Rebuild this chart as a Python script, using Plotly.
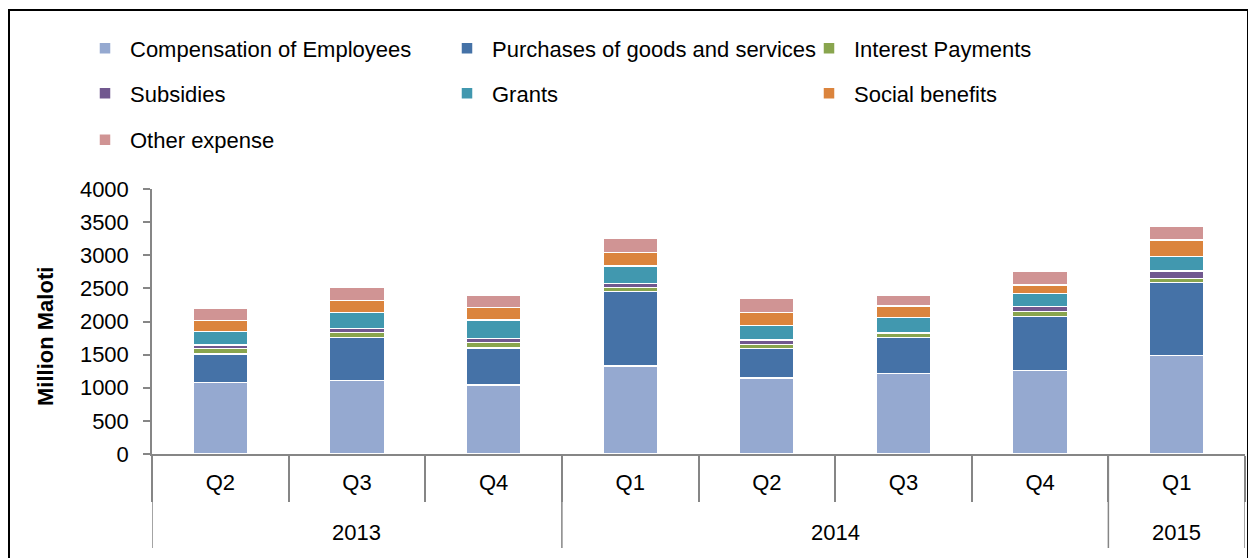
import plotly.graph_objects as go

years = ["2013", "2013", "2013", "2014", "2014", "2014", "2014", "2015"]
quarters = ["Q2", "Q3", "Q4", "Q1", "Q2", "Q3", "Q4", "Q1"]

compensation = [1082, 1107, 1041, 1328, 1147, 1218, 1258, 1484]
purchases = [427, 654, 559, 1122, 448, 538, 815, 1102]
interest = [80, 70, 80, 60, 61, 66, 81, 66]
subsidies = [60, 66, 61, 66, 65, 15, 70, 110]
grants = [200, 236, 282, 262, 216, 220, 201, 217]
social = [165, 181, 191, 206, 196, 176, 126, 251]
other = [180, 202, 176, 212, 222, 161, 201, 201]

series = [
    ("Compensation of Employees", compensation, "#95A9D0", "legend"),
    ("Purchases of goods and services", purchases, "#4572A7", "legend"),
    ("Interest Payments", interest, "#89A54E", "legend"),
    ("Subsidies", subsidies, "#71588F", "legend2"),
    ("Grants", grants, "#4198AF", "legend2"),
    ("Social benefits", social, "#DB843D", "legend2"),
    ("Other expense", other, "#D09494", "legend3"),
]

FONT = "Liberation Sans, Arial, sans-serif"
AXIS_GRAY = "#868686"

cats = [f"{y} {q}" for y, q in zip(years, quarters)]
n = len(cats)

# screen-pixel helpers (page body has an 8px margin; the plot area spans
# screen x 152..1245 and y 189..454)
def ypaper(sy):
    return (454 - sy) / 265.0

def xpaper(sx):
    return (sx - 152) / 1093.0

fig = go.Figure()
for name, vals, color, lg in series:
    fig.add_trace(go.Bar(
        x=cats, y=vals, name=name,
        marker=dict(color=color, line=dict(color="white", width=1.5)),
        legend=lg,
    ))

leg_common = dict(orientation="h", xanchor="left", yanchor="middle",
                  entrywidth=307, entrywidthmode="pixels", itemwidth=40,
                  font=dict(family=FONT, size=22, color="#000000"),
                  bgcolor="rgba(0,0,0,0)", traceorder="normal")

# year groups -> dividers and labels computed from the data
groups = []
for i, y in enumerate(years):
    if not groups or groups[-1][0] != y:
        groups.append([y, i, i])
    else:
        groups[-1][2] = i

shapes = []
annotations = []
bounds = sorted({g[1] - 0.5 for g in groups} | {g[2] + 0.5 for g in groups})
for b in bounds:
    shapes.append(dict(type="line", xref="x", yref="paper",
                       x0=b, x1=b, y0=0, y1=ypaper(548),
                       line=dict(color=AXIS_GRAY, width=1.5)))
for y, i0, i1 in groups:
    annotations.append(dict(text=y, xref="x", yref="paper",
                            x=(i0 + i1) / 2, y=ypaper(532),
                            showarrow=False, yanchor="middle",
                            font=dict(family=FONT, size=22, color="#000000")))

annotations.append(dict(text="<b>Million Maloti</b>", textangle=-90,
                        xref="paper", yref="paper",
                        x=xpaper(45), y=ypaper(337),
                        showarrow=False, xanchor="center", yanchor="middle",
                        font=dict(family=FONT, size=22, color="#000000")))

shapes.append(dict(type="rect", xref="paper", yref="paper",
                   x0=xpaper(9), x1=xpaper(1248), y0=ypaper(600), y1=ypaper(10),
                   line=dict(color="black", width=2), fillcolor="rgba(0,0,0,0)",
                   layer="below"))

fig.update_layout(
    width=1256, height=558,
    margin=dict(l=144, r=19, t=181, b=112),
    paper_bgcolor="white", plot_bgcolor="white",
    barmode="stack", bargap=0.6,
    font=dict(family=FONT, size=19, color="#000000"),
    showlegend=True,
    legend=dict(x=xpaper(80), y=ypaper(48.5), **leg_common),
    legend2=dict(x=xpaper(80), y=ypaper(93.5), **leg_common),
    legend3=dict(x=xpaper(80), y=ypaper(140), **leg_common),
    yaxis=dict(range=[0, 4000], dtick=500, showgrid=False, zeroline=False,
               showline=True, linecolor=AXIS_GRAY, linewidth=1.5,
               ticks="outside", ticklen=7, tickcolor=AXIS_GRAY, tickwidth=1.5,
               ticklabelstandoff=10,
               tickfont=dict(family=FONT, size=22)),
    xaxis=dict(type="category", categoryorder="array", categoryarray=cats,
               range=[-0.5, n - 0.5],
               tickvals=cats, ticktext=quarters, tickson="boundaries",
               showgrid=False, showline=True, linecolor=AXIS_GRAY, linewidth=1.5,
               ticks="outside", ticklen=46, tickcolor=AXIS_GRAY, tickwidth=1.5,
               ticklabelstandoff=8,
               tickfont=dict(family=FONT, size=22)),
    shapes=shapes,
    annotations=annotations,
)

fig.write_html("out.html")
